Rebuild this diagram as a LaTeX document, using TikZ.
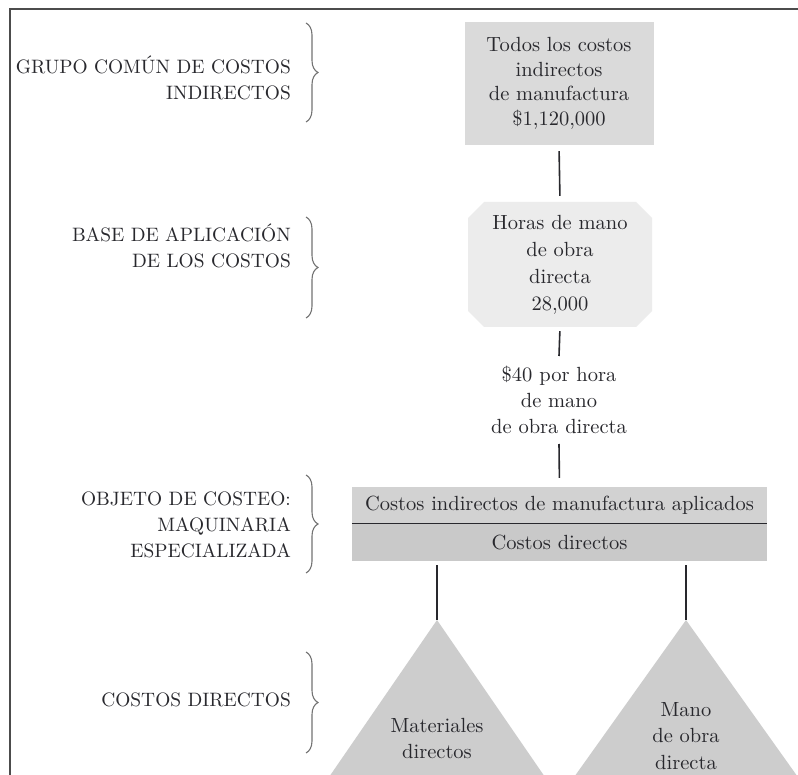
\documentclass[tikz,border=0pt]{standalone}
\usepackage{fontspec}
\setmainfont{lmroman10-regular.otf}
\usetikzlibrary{decorations.pathreplacing}
\definecolor{boxA}{RGB}{218,218,218}
\definecolor{boxO}{RGB}{236,236,236}
\definecolor{boxU}{RGB}{210,210,210}
\definecolor{boxL}{RGB}{201,201,201}
\definecolor{triF}{RGB}{205,205,205}
\definecolor{ink}{RGB}{40,40,45}
\begin{document}
\begin{tikzpicture}[x=1pt,y=-1pt,
  txt/.style={font=\fontsize{20.5}{26}\selectfont, text=ink, align=center, inner sep=0pt},
  lbl/.style={font=\fontsize{19.4}{26}\selectfont, text=ink, align=right, anchor=east, inner sep=0pt},
  conn/.style={draw=ink, line width=1.6pt},
  brc/.style={draw=black!55, line width=1.1pt, decorate, decoration={brace, amplitude=12pt}},
]
\useasboundingbox (0,0) rectangle (798,775);
\fill[white] (0,0) rectangle (798,775);
\draw[black!70, line width=1.3pt] (10,775) -- (10,9) -- (798,9);

% left labels and braces
\node[lbl] (g1) at (291,77.5) {GRUPO COMÚN DE COSTOS\\INDIRECTOS};
\node[lbl] (g2) at (291,246) {BASE DE APLICACIÓN\\DE LOS COSTOS};
\node[lbl] (g3) at (291,525) {OBJETO DE COSTEO:\\MAQUINARIA\\ESPECIALIZADA};
\node[lbl] (g4) at (291,700) {COSTOS DIRECTOS};
\draw[brc] (306,23) -- (306,122);
\draw[brc] (306,217) -- (306,318);
\draw[brc] (306,475) -- (306,573);
\draw[brc] (306,652) -- (306,753);

% top box
\node[txt, fill=boxA, minimum width=189pt, minimum height=123pt,
      font=\fontsize{20.5}{24.5}\selectfont] (top) at (559,83.5)
  {Todos los costos\\indirectos\\de manufactura\\\$1,120,000};

% octagon
\fill[boxO] (468,218) -- (484,202) -- (636,202) -- (652,218) -- (652,311)
  -- (636,327) -- (484,327) -- (468,311) -- cycle;
\node[txt, minimum width=184pt, minimum height=125pt, font=\fontsize{20.5}{27}\selectfont]
  (oct) at (560,264.5) {Horas de mano\\de obra\\directa\\28,000};

% rate text
\node[txt, inner sep=10pt] (rate) at (559,400) {\$40 por hora\\de mano\\de obra directa};

% big rectangle
\node[txt, fill=boxU, minimum width=415pt, minimum height=36pt] (ind) at (559.5,505)
  {Costos indirectos de manufactura aplicados};
\node[txt, fill=boxL, minimum width=415pt, minimum height=38pt] (dir) at (559.5,542)
  {Costos directos};
\draw[ink, line width=1.3pt] (ind.south west) -- (ind.south east);

% triangles
\coordinate (tl) at (437,620);
\coordinate (tr) at (686,620);
\fill[triF] (tl) -- ++(-110,160) -- ++(220,0) -- cycle;
\fill[triF] (tr) -- ++(-114,160) -- ++(228,0) -- cycle;
\node[txt] (mat) at (437,738) {Materiales\\directos};
\node[txt, font=\fontsize{20.5}{26.5}\selectfont] (mano) at (686,736) {Mano\\de obra\\directa};

% connectors
\draw[conn, shorten <=6pt, shorten >=6pt] (top.south) -- (oct.north);
\draw[conn, shorten <=4pt] (oct.south) -- (rate.north);
\draw[conn, shorten >=9pt] (rate.south) -- (ind.north);
\draw[conn, shorten <=4pt] (dir.south -| tl) -- (tl);
\draw[conn, shorten <=4pt] (dir.south -| tr) -- (tr);
\end{tikzpicture}
\end{document}
